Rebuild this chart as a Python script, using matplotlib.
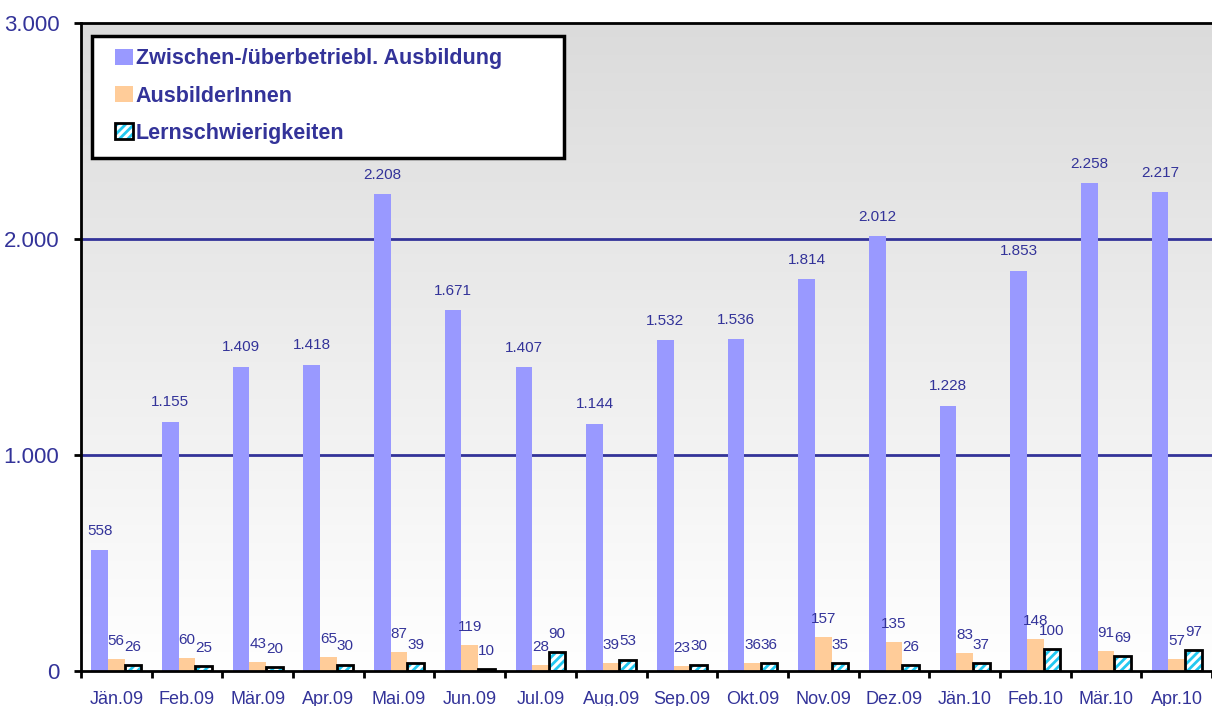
import numpy as np
import matplotlib.pyplot as plt
from matplotlib.patches import Rectangle
from matplotlib.legend_handler import HandlerTuple

plt.rcParams['font.family'] = ['Liberation Sans', 'DejaVu Sans']
plt.rcParams['hatch.linewidth'] = 2.0

months = ['Jän.09', 'Feb.09', 'Mär.09', 'Apr.09', 'Mai.09', 'Jun.09', 'Jul.09', 'Aug.09',
          'Sep.09', 'Okt.09', 'Nov.09', 'Dez.09', 'Jän.10', 'Feb.10', 'Mär.10', 'Apr.10']
ausbildung = [558, 1155, 1409, 1418, 2208, 1671, 1407, 1144, 1532, 1536, 1814, 2012, 1228, 1853, 2258, 2217]
ausbilder = [56, 60, 43, 65, 87, 119, 28, 39, 23, 36, 157, 135, 83, 148, 91, 57]
lernschw = [26, 25, 20, 30, 39, 10, 90, 53, 30, 36, 35, 26, 37, 100, 69, 97]

navy = '#333399'

def fmt(v):
    return f"{v:,}".replace(",", ".")

fig = plt.figure(figsize=(12.12, 7.06), dpi=100)
ax = fig.add_axes([81 / 1212, 1 - 671 / 706, 1 - 81 / 1212, (671 - 23) / 706])

x = np.arange(len(months))
w = 0.235

# gradient background, white at the bottom, grey at the top
grad = np.linspace(1.0, 0.86, 256).reshape(-1, 1)
ax.imshow(np.dstack([grad, grad, grad]), extent=[-0.5, 15.5, 0, 3000], aspect='auto',
          zorder=0, origin='lower', interpolation='bilinear')
ax.set_ylim(0, 3000)
ax.set_xlim(-0.5, 15.5)

for yv in (1000, 2000):
    ax.axhline(yv, color=navy, lw=2, zorder=1)

b1 = ax.bar(x - w, ausbildung, w, color='#9999ff', zorder=2)
b2 = ax.bar(x, ausbilder, w, color='#ffcc99', zorder=2)
b3h = ax.bar(x + w, lernschw, w, facecolor='white', edgecolor='#22c8f0', lw=0, hatch='////', zorder=2)
b3 = ax.bar(x + w, lernschw, w, facecolor='none', edgecolor='black', lw=2, zorder=3)

for bars, vals, off in ((b1, ausbildung, 14), (b2, ausbilder, 13), (b3, lernschw, 13)):
    for r, v in zip(bars, vals):
        ax.annotate(fmt(v), (r.get_x() + r.get_width() / 2, v), xytext=(0, off),
                    textcoords='offset points', ha='center', va='center',
                    fontsize=11, color=navy, zorder=5)

ax.set_yticks([0, 1000, 2000, 3000])
ax.set_yticklabels([fmt(v) for v in [0, 1000, 2000, 3000]], fontsize=16, color=navy)
ax.tick_params(axis='y', direction='out', length=5, width=2, pad=10.5)

ax.set_xticks(x)
ax.set_xticklabels(months, fontsize=13, color=navy)
ax.tick_params(axis='x', which='major', length=0, pad=14.5)
ax.set_xticks(np.arange(-0.5, 16, 1), minor=True)
ax.tick_params(axis='x', which='minor', direction='out', length=5, width=2)

for s in ('left', 'bottom', 'top'):
    ax.spines[s].set_linewidth(2)
    ax.spines[s].set_color('black')
ax.spines['right'].set_visible(False)

# legend box
fig.patches.append(Rectangle((92 / 1212, 1 - 158 / 706), (564 - 92) / 1212, (158 - 36) / 706,
                             transform=fig.transFigure, facecolor='white', edgecolor='black',
                             lw=2.5, zorder=3))
leg = fig.legend(handles=[b1, b2, (b3h, b3)],
                 labels=['Zwischen-/überbetriebl. Ausbildung', 'AusbilderInnen', 'Lernschwierigkeiten'],
                 handler_map={tuple: HandlerTuple(ndivide=1)},
                 loc='upper left', bbox_to_anchor=(96 / 1212, 1 - 29 / 706),
                 frameon=False, handlelength=0.8, handleheight=0.8, handletextpad=0.15,
                 labelspacing=0.75, prop={'size': 15.5, 'weight': 'bold'})
for t in leg.get_texts():
    t.set_color(navy)
leg.set_zorder(4)

fig.savefig('out.png', dpi=100)
